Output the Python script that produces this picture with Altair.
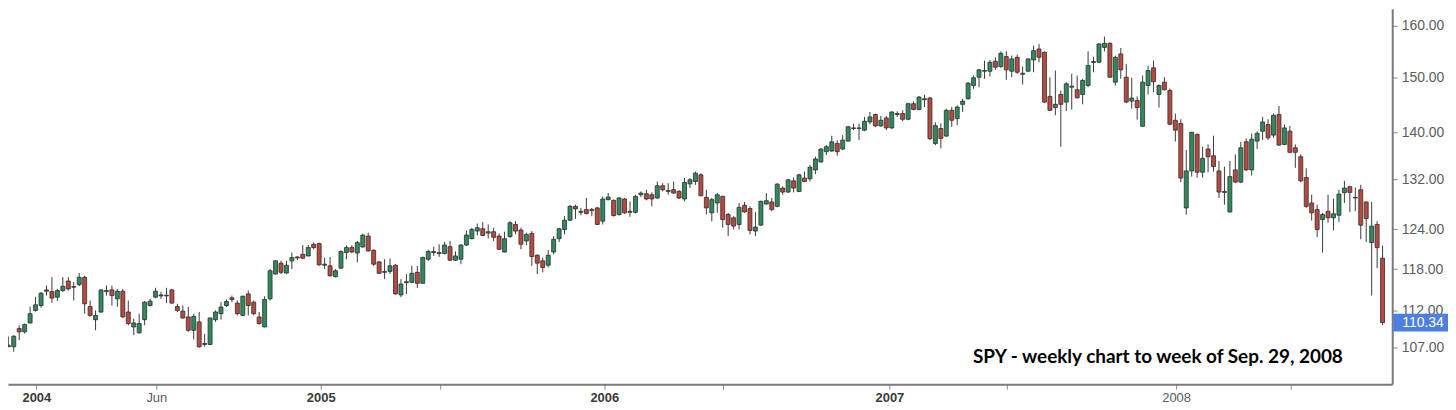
import altair as alt
import pandas as pd

# ---------------- data (weekly SPY candles, week starting Mondays) ----------------
first_week = "2003-12-01"
n_weeks = 253

opens = [
    107.27, 107.06, 109.52, 109.08, 110.30, 112.04, 112.73, 114.96, 114.71, 113.92,
    114.86, 116.24, 115.43, 115.71, 116.78, 112.59, 110.75, 111.82, 114.86, 114.96,
    113.68, 114.77, 111.82, 109.75, 108.94, 110.75, 112.73, 113.92, 114.24, 114.10,
    114.96, 112.59, 111.95, 111.13, 109.29, 110.44, 107.50, 107.37, 110.75, 111.58,
    112.73, 113.82, 113.07, 111.35, 114.38, 113.21, 111.13, 109.75, 113.68, 117.26,
    118.87, 117.41, 119.21, 119.80, 120.20, 119.95, 121.71, 121.82, 118.72, 118.47,
    116.87, 118.13, 120.45, 121.21, 120.39, 121.30, 122.97, 120.80, 119.06, 117.65,
    117.65, 118.57, 114.24, 116.00, 116.05, 117.51, 115.91, 119.46, 120.61, 120.30,
    120.30, 121.35, 119.31, 119.46, 121.60, 122.57, 123.74, 124.10, 123.64, 123.64,
    122.97, 120.54, 122.88, 124.77, 123.90, 122.22, 123.38, 120.05, 119.21, 118.57,
    120.54, 122.57, 123.99, 125.43, 127.63, 126.84, 127.11, 126.95, 127.38, 125.29,
    128.70, 128.59, 126.33, 128.81, 126.84, 126.68, 129.50, 129.66, 129.50, 128.97,
    130.96, 130.20, 130.31, 130.04, 128.81, 131.28, 131.66, 132.76, 129.07, 126.60,
    128.17, 129.23, 126.33, 125.81, 124.77, 127.79, 127.27, 123.74, 124.67, 128.01,
    128.33, 127.63, 130.58, 129.93, 131.77, 130.04, 132.23, 132.10, 133.59, 134.92,
    136.66, 136.78, 138.08, 137.12, 138.49, 140.80, 140.70, 140.40, 141.85, 143.17,
    141.15, 142.56, 140.80, 143.35, 143.35, 142.33, 145.13, 144.10, 146.04, 146.16,
    138.08, 140.69, 139.36, 143.93, 142.45, 145.01, 146.04, 148.48, 150.02, 151.28,
    151.15, 153.05, 152.03, 153.94, 151.15, 153.81, 150.77, 151.15, 153.31, 155.42,
    154.76, 146.46, 144.42, 146.82, 145.42, 148.16, 147.69, 146.82, 148.48, 152.80,
    152.86, 155.73, 156.52, 149.10, 154.46, 150.02, 145.60, 145.73, 141.09, 148.48,
    151.79, 146.82, 149.10, 147.56, 142.15, 141.57, 127.38, 133.42, 139.65, 133.21,
    137.12, 135.98, 133.42, 130.04, 126.75, 133.59, 131.56, 138.37, 133.59, 138.49,
    140.22, 141.39, 139.53, 143.17, 137.92, 140.22, 137.34, 135.81, 132.32, 128.17,
    127.11, 125.54, 126.84, 125.81, 126.22, 129.82, 130.80, 129.07, 130.31, 128.33,
    121.97, 124.77, 119.61,
]

highs = [
    108.44, 108.62, 109.98, 110.21, 112.56, 113.96, 114.67, 115.57, 116.82, 115.10,
    116.82, 116.82, 116.10, 117.41, 117.01, 113.44, 112.04, 115.00, 115.57, 115.57,
    115.10, 115.10, 113.44, 110.89, 111.58, 113.35, 113.68, 115.25, 114.67, 115.25,
    115.10, 112.97, 112.73, 112.52, 111.58, 111.82, 108.77, 111.03, 112.04, 113.21,
    113.58, 114.14, 113.44, 114.14, 114.86, 113.44, 111.82, 114.05, 117.99, 119.31,
    119.21, 119.21, 120.45, 119.90, 121.60, 121.60, 121.97, 121.97, 119.71, 119.80,
    117.99, 120.80, 121.56, 121.60, 122.22, 123.33, 123.49, 120.95, 119.21, 119.46,
    119.56, 118.72, 116.53, 117.26, 118.47, 118.47, 119.86, 120.85, 121.35, 121.71,
    122.10, 122.22, 120.65, 121.71, 123.84, 124.26, 124.92, 125.13, 124.77, 124.26,
    123.38, 123.64, 125.29, 125.29, 124.26, 123.49, 123.74, 120.20, 119.71, 120.85,
    122.97, 124.26, 126.06, 127.85, 127.90, 127.38, 128.97, 127.38, 127.54, 129.23,
    129.77, 128.75, 129.13, 128.97, 128.43, 129.50, 130.04, 130.31, 129.88, 131.66,
    131.39, 131.39, 131.66, 130.26, 132.23, 132.23, 133.31, 133.04, 130.31, 128.97,
    129.77, 129.34, 126.60, 126.06, 128.17, 128.33, 127.63, 126.75, 128.54, 129.77,
    128.97, 131.39, 130.85, 132.10, 132.33, 132.93, 133.31, 134.42, 135.82, 137.29,
    137.80, 139.42, 138.66, 139.53, 141.18, 141.56, 141.56, 142.74, 143.63, 143.35,
    142.92, 142.92, 143.75, 143.75, 143.93, 145.31, 145.55, 146.52, 146.77, 146.34,
    141.79, 141.57, 144.24, 144.52, 144.83, 146.04, 149.10, 150.34, 151.60, 153.18,
    153.31, 153.81, 154.96, 154.96, 154.13, 154.32, 152.03, 153.56, 156.06, 156.40,
    154.96, 150.02, 151.28, 147.56, 149.10, 150.66, 150.34, 149.72, 154.96, 153.94,
    156.52, 157.83, 156.71, 154.13, 155.61, 152.55, 149.91, 146.46, 150.34, 152.22,
    153.18, 148.66, 150.02, 147.93, 143.35, 142.33, 136.95, 140.12, 139.83, 137.51,
    137.92, 139.42, 135.09, 134.14, 135.09, 136.22, 138.37, 138.95, 139.81, 140.22,
    142.74, 142.33, 143.35, 144.73, 141.39, 141.15, 137.92, 136.22, 133.86, 129.50,
    127.90, 126.60, 129.50, 128.86, 130.31, 131.77, 130.96, 130.69, 131.12, 128.43,
    128.33, 125.29, 121.51,
]

lows = [
    107.03, 106.40, 107.94, 108.85, 110.21, 111.86, 112.42, 114.14, 113.11, 113.40,
    114.67, 114.86, 113.44, 115.52, 111.58, 111.17, 109.29, 111.70, 114.14, 112.73,
    112.56, 111.00, 109.98, 108.62, 108.85, 109.98, 112.59, 113.78, 113.68, 113.07,
    113.00, 111.82, 110.89, 109.08, 108.04, 106.95, 107.06, 107.30, 110.44, 110.75,
    112.52, 113.21, 111.35, 111.30, 111.35, 111.35, 110.07, 109.70, 113.44, 117.19,
    117.26, 117.26, 117.99, 119.31, 119.46, 119.86, 120.95, 118.47, 117.99, 116.87,
    116.78, 118.09, 119.46, 120.35, 119.00, 121.21, 120.61, 118.47, 117.26, 116.53,
    117.26, 114.28, 113.92, 114.38, 115.95, 115.24, 115.88, 119.21, 119.95, 119.80,
    120.20, 119.21, 119.21, 118.72, 121.45, 122.47, 123.07, 122.97, 122.57, 122.22,
    120.85, 120.45, 122.72, 123.23, 120.95, 121.56, 118.47, 117.26, 117.51, 118.23,
    120.20, 122.04, 123.23, 125.33, 125.65, 126.20, 126.33, 126.06, 124.72, 124.77,
    128.60, 126.01, 126.17, 126.44, 125.97, 126.49, 129.13, 128.59, 127.63, 128.81,
    130.04, 129.50, 129.66, 128.81, 128.43, 130.61, 131.12, 129.23, 126.33, 125.26,
    126.60, 124.26, 122.97, 123.99, 123.99, 126.60, 123.23, 122.97, 124.51, 127.90,
    126.84, 127.47, 129.50, 129.82, 129.88, 129.93, 131.55, 131.66, 132.87, 134.81,
    136.10, 136.66, 135.98, 136.95, 138.40, 140.40, 138.66, 140.22, 141.44, 140.98,
    140.98, 140.40, 140.57, 142.74, 141.97, 142.15, 143.93, 143.93, 144.52, 138.66,
    137.80, 137.23, 139.24, 140.97, 141.27, 143.63, 145.85, 147.87, 148.16, 149.72,
    150.15, 151.41, 151.79, 149.54, 150.02, 150.65, 148.66, 151.09, 150.96, 152.86,
    145.24, 143.81, 143.04, 137.51, 143.81, 144.06, 146.04, 145.01, 148.16, 150.96,
    152.74, 154.96, 149.91, 148.48, 149.72, 145.24, 144.24, 142.27, 140.97, 146.82,
    147.25, 144.42, 147.56, 141.27, 138.41, 131.56, 126.33, 132.48, 132.32, 132.32,
    133.21, 133.31, 128.97, 127.90, 126.60, 131.39, 131.39, 133.42, 132.65, 137.12,
    138.66, 138.66, 139.06, 137.68, 137.80, 136.38, 133.93, 131.56, 127.38, 125.38,
    122.82, 120.45, 125.03, 123.84, 125.17, 128.17, 126.75, 126.84, 122.47, 122.04,
    114.14, 118.13, 110.00,
]

closes = [
    107.06, 108.48, 109.08, 110.07, 111.58, 112.83, 114.48, 114.77, 113.78, 114.86,
    115.48, 115.10, 115.34, 116.78, 112.97, 111.35, 111.35, 114.96, 114.71, 114.14,
    114.77, 111.13, 110.21, 110.30, 110.21, 113.21, 113.35, 114.77, 114.10, 114.19,
    113.07, 112.04, 110.99, 109.29, 111.21, 107.06, 107.37, 110.99, 111.82, 112.52,
    113.30, 113.58, 111.58, 114.05, 112.73, 111.58, 110.21, 113.58, 117.74, 119.21,
    117.51, 118.57, 119.71, 119.65, 119.61, 121.21, 121.21, 118.62, 118.57, 117.01,
    117.74, 120.61, 121.21, 120.54, 121.97, 123.12, 120.70, 118.72, 117.37, 117.51,
    118.47, 114.38, 115.81, 116.15, 117.37, 115.91, 119.71, 120.61, 120.45, 120.45,
    121.60, 119.31, 119.95, 121.60, 123.12, 123.99, 124.26, 123.07, 123.43, 122.78,
    120.95, 122.57, 125.03, 123.74, 121.71, 123.23, 119.86, 118.87, 118.23, 120.05,
    122.47, 124.10, 125.43, 127.63, 127.22, 126.68, 126.49, 127.11, 124.77, 128.81,
    129.13, 126.17, 128.97, 126.60, 126.68, 129.23, 129.77, 128.81, 128.81, 130.96,
    130.31, 130.04, 129.77, 128.97, 131.50, 131.94, 133.04, 129.34, 127.38, 128.70,
    129.50, 125.54, 124.77, 124.51, 127.47, 126.75, 123.84, 124.36, 128.43, 128.54,
    127.11, 131.23, 129.93, 131.94, 130.58, 132.76, 131.66, 134.04, 135.43, 137.12,
    137.52, 138.37, 136.66, 138.66, 140.98, 140.70, 140.80, 141.97, 142.74, 141.15,
    142.15, 140.80, 143.63, 143.17, 142.33, 145.13, 144.10, 146.34, 145.85, 138.91,
    141.20, 138.96, 143.93, 142.15, 144.52, 145.60, 148.91, 149.91, 151.41, 151.15,
    152.86, 151.91, 154.57, 151.41, 153.50, 150.96, 150.58, 153.50, 155.09, 153.81,
    145.42, 143.93, 145.01, 145.01, 148.79, 148.35, 146.22, 149.41, 152.22, 152.99,
    156.40, 156.52, 150.02, 153.81, 151.41, 145.42, 146.16, 144.42, 149.10, 151.28,
    149.17, 148.48, 147.69, 141.45, 140.40, 132.22, 133.42, 140.02, 133.21, 135.54,
    135.81, 134.14, 129.93, 129.88, 132.48, 131.56, 137.34, 133.59, 138.83, 139.83,
    141.85, 139.06, 143.04, 137.80, 140.80, 136.56, 136.56, 131.77, 127.63, 126.60,
    123.99, 126.33, 125.81, 126.44, 129.61, 130.58, 129.88, 128.97, 124.66, 125.70,
    124.51, 121.21, 110.34,
]

y_ticks = [107, 112, 118, 124, 132, 140, 150, 160]
x_tick_dates = ["2004-01-06", "2004-06-08", "2005-01-05", "2005-06-07", "2006-01-04",
                "2006-06-06", "2007-01-05", "2007-06-05", "2008-01-08", "2008-06-03"]
x_domain_dates = ["2003-12-07", "2008-10-05"]
y_domain = [102.15, 163.43]
note = "SPY - weekly chart to week of Sep. 29, 2008"

# ---------------- build ----------------
weeks = pd.date_range(first_week, periods=n_weeks, freq="7D")
df = pd.DataFrame({
    "date": weeks.strftime("%Y-%m-%d"),
    "open": opens, "high": highs, "low": lows, "close": closes,
})
df["dir"] = ["up" if c >= o else "down" for o, c in zip(opens, closes)]


def ms(s):
    return int(pd.Timestamp(s).value // 10**6)


x_scale = alt.Scale(domain=[ms(d) for d in x_domain_dates])
y_scale = alt.Scale(type="log", domain=y_domain, nice=False, zero=False)

x_axis = alt.Axis(
    values=[ms(d) for d in x_tick_dates],
    labelExpr="utcmonth(datum.value) == 0 ? utcFormat(datum.value, '%Y') : (utcyear(datum.value) == 2004 ? 'Jun' : '')",
    labelFontWeight={"expr": "utcmonth(datum.value) == 0 && utcyear(datum.value) < 2008 ? 'bold' : 'normal'"},
    labelColor={"expr": "utcmonth(datum.value) == 0 && utcyear(datum.value) < 2008 ? '#3a3a3a' : '#5a5a5a'"},
    title=None, grid=False, tickSize=5, tickColor="#8a8a8a", domainColor="#7a7a7a",
    domainWidth=2, labelFontSize=13, labelFont="Liberation Sans", labelPadding=2,
    labelOverlap=False, labelFlush=False,
)
y_axis = alt.Axis(
    orient="right", values=y_ticks, format=".2f", title=None, grid=False,
    tickSize=5, tickColor="#8a8a8a", domainColor="#7a7a7a", domainWidth=2,
    labelFontSize=14, labelFont="Liberation Sans", labelColor="#5c5c5c",
    labelPadding=4, labelOverlap=False, labelFlush=False,
)

base = alt.Chart(df)
X = alt.X("date:T", scale=x_scale, axis=x_axis)

wicks = base.mark_rule(color="#3a3a3a", strokeWidth=1, clip=True).encode(
    x=X,
    y=alt.Y("low:Q", scale=y_scale, axis=y_axis),
    y2="high:Q",
)

bodies = base.mark_bar(width=4, stroke="#2d2d2d", strokeWidth=0.8, clip=True).encode(
    x=X,
    y=alt.Y("open:Q", scale=y_scale, axis=y_axis),
    y2="close:Q",
    color=alt.Color("dir:N", scale=alt.Scale(domain=["up", "down"], range=["#2e8b5e", "#b64a3f"]), legend=None),
)

last = alt.Chart(df.tail(1))
price_box = last.mark_rect(color="#4d7fe2", height=18).encode(
    x=alt.value(1391), x2=alt.value(1446),
    y=alt.Y("close:Q", scale=y_scale, axis=y_axis),
)
price_text = last.mark_text(color="white", fontSize=14, font="Liberation Sans",
                            align="left", baseline="middle").encode(
    x=alt.value(1400),
    y=alt.Y("close:Q", scale=y_scale, axis=y_axis),
    text=alt.Text("close:Q", format=".2f"),
)

note_layer = alt.Chart(pd.DataFrame({"t": [note]})).mark_text(
    font="Lato", fontSize=19, fontWeight="bold", color="black",
    align="left", baseline="middle",
).encode(x=alt.value(969), y=alt.value(350), text="t:N")

chart = alt.layer(wicks, bodies, price_box, price_text, note_layer).properties(
    width=1390, height=377,
    padding={"left": 0, "top": 0, "right": 0, "bottom": 0},
).configure_view(stroke=None)

chart.save("out.html", embed_options={"renderer": "svg", "actions": False})
